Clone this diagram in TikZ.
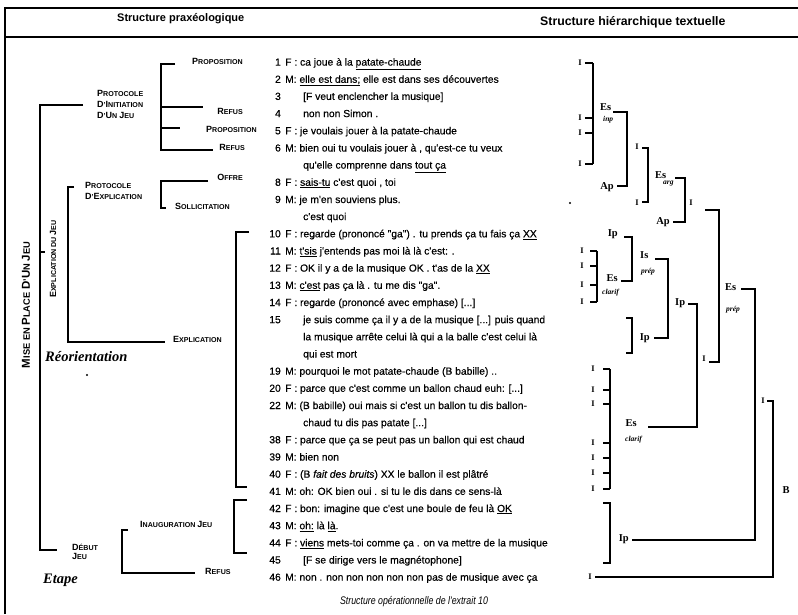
\documentclass[tikz,border=0pt]{standalone}
\usepackage{fontspec}
\setmainfont{Liberation Sans}
\newfontfamily\uttfont[FakeBold=0.4]{Liberation Sans}
\newfontfamily\hierfont{Liberation Serif}
\newfontfamily\captfont[FakeStretch=0.8]{Liberation Sans}
\newcommand\capA[1]{{\fontsize{9}{9}\selectfont #1}}
\newcommand\capB[1]{{\fontsize{11.5}{12}\selectfont #1}}
\begin{document}
\begin{tikzpicture}[x=1pt,y=-1pt,
  frame/.style={line width=1.5pt},
  br/.style={line width=1.3pt},
  num/.style={anchor=east,inner sep=0pt,text height=7.2pt,text depth=0pt,font=\uttfont\fontsize{10.3}{11}\selectfont},
  utt/.style={anchor=west,inner sep=0pt,text height=7.2pt,text depth=0pt,font=\uttfont\fontsize{10.3}{11}\selectfont},
  cat/.style={inner sep=0pt,text height=5.3pt,text depth=0pt,font=\bfseries\fontsize{7.1}{8}\selectfont},
  catm/.style={inner sep=0pt,align=left,anchor=west,font=\bfseries\fontsize{7.1}{11}\selectfont},
  unit/.style={inner sep=0pt,text height=6.5pt,text depth=0pt,font=\hierfont\bfseries\fontsize{10.5}{10}\selectfont},
  qual/.style={inner sep=0pt,anchor=west,font=\hierfont\bfseries\itshape\fontsize{7.5}{8}\selectfont},
  imark/.style={inner sep=0pt,text height=5.5pt,text depth=0pt,font=\hierfont\bfseries\fontsize{8.5}{8}\selectfont},
  head/.style={inner sep=0pt,anchor=west,font=\bfseries\fontsize{11}{12}\selectfont},
  lvl/.style={inner sep=0pt,anchor=west,font=\hierfont\bfseries\itshape\fontsize{14.5}{14}\selectfont},
  speck/.style={circle,fill,inner sep=0pt,minimum size=2.2pt}
]
\useasboundingbox (0,0) rectangle (798,614);

% ---------------- frame and column headings ----------------
\coordinate (fr-bl) at (5,614);
\coordinate (fr-tl) at (5,8);
\coordinate (fr-tr) at (798,8);
\coordinate (hd-l) at (5,37);
\coordinate (hd-r) at (798,37);
\draw[frame] (fr-bl) -- (fr-tl) -- (fr-tr);
\draw[frame] (hd-l) -- (hd-r);
\node[head] (hd-prax) at (117,19) {Structure praxéologique};
\node[head,font=\bfseries\fontsize{12.3}{13}\selectfont] (hd-hier) at (540,22) {Structure hiérarchique textuelle};

% ---------------- transcript ----------------
\node[num] (n1)  at (281,62.0)  {1};
\node[utt] (u1)  at (285,62.0)  {F : ca joue à la \underline{patate-chaude}};
\node[num] (n2)  at (281,79.2)  {2};
\node[utt] (u2)  at (285,79.2)  {M: \underline{elle est dans;} elle est dans ses découvertes};
\node[num] (n3)  at (281,96.3)  {3};
\node[utt] (u3)  at (303,96.3)  {[F veut enclencher la musique]};
\node[num] (n4)  at (281,113.5) {4};
\node[utt] (u4)  at (303,113.5) {non non Simon .};
\node[num] (n5)  at (281,130.7) {5};
\node[utt] (u5)  at (285,130.7) {F : je voulais jouer à la patate-chaude};
\node[num] (n6)  at (281,147.9) {6};
\node[utt] (u6)  at (285,147.9) {M: bien oui tu voulais jouer à , qu'est-ce tu veux};
\node[utt] (u6b) at (303,165.0) {qu'elle comprenne dans \underline{tout ça}};
\node[num] (n8)  at (281,182.2) {8};
\node[utt] (u8)  at (285,182.2) {F : \underline{sais-tu} c'est quoi , toi};
\node[num] (n9)  at (281,199.4) {9};
\node[utt] (u9)  at (285,199.4) {M: je m'en souviens plus.};
\node[utt] (u9b) at (303,216.5) {c'est quoi};
\node[num] (n10) at (281,233.7) {10};
\node[utt] (u10) at (285,233.7) {F : regarde (prononcé "ga") . tu prends ça tu fais ça \underline{XX}};
\node[num] (n11) at (281,250.9) {11};
\node[utt] (u11) at (285,250.9) {M: \underline{t'sis} j'entends pas moi là là c'est: .};
\node[num] (n12) at (281,268.0) {12};
\node[utt] (u12) at (285,268.0) {F : OK il y a de la musique OK . t'as de la \underline{XX}};
\node[num] (n13) at (281,285.2) {13};
\node[utt] (u13) at (285,285.2) {M: \underline{c'est} pas ça là . tu me dis "ga".};
\node[num] (n14) at (281,302.4) {14};
\node[utt] (u14) at (285,302.4) {F : regarde (prononcé avec emphase) [...]};
\node[num] (n15) at (281,319.6) {15};
\node[utt] (u15) at (303,319.6) {je suis comme ça il y a de la musique [...] puis quand};
\node[utt] (u15b) at (303,336.7) {la musique arrête celui là qui a la balle c'est celui là};
\node[utt] (u15c) at (303,353.9) {qui est mort};
\node[num] (n19) at (281,371.1) {19};
\node[utt] (u19) at (285,371.1) {M: pourquoi le mot patate-chaude (B babille) ..};
\node[num] (n20) at (281,388.2) {20};
\node[utt] (u20) at (285,388.2) {F : parce que c'est comme un ballon chaud euh: [...]};
\node[num] (n22) at (281,405.4) {22};
\node[utt] (u22) at (285,405.4) {M: (B babille) oui mais si c'est un ballon tu dis ballon-};
\node[utt] (u22b) at (303,422.6) {chaud tu dis pas patate [...]};
\node[num] (n38) at (281,439.7) {38};
\node[utt] (u38) at (285,439.7) {F : parce que ça se peut pas un ballon qui est chaud};
\node[num] (n39) at (281,456.9) {39};
\node[utt] (u39) at (285,456.9) {M: bien non};
\node[num] (n40) at (281,474.1) {40};
\node[utt] (u40) at (285,474.1) {F : (B \textit{fait des bruits}) XX le ballon il est plâtré};
\node[num] (n41) at (281,491.3) {41};
\node[utt] (u41) at (285,491.3) {M: oh: OK bien oui . si tu le dis dans ce sens-là};
\node[num] (n42) at (281,508.4) {42};
\node[utt] (u42) at (285,508.4) {F : bon: imagine que c'est une boule de feu là \underline{OK}};
\node[num] (n43) at (281,525.6) {43};
\node[utt] (u43) at (285,525.6) {M: \underline{oh:} là \underline{là}.};
\node[num] (n44) at (281,542.8) {44};
\node[utt] (u44) at (285,542.8) {F : \underline{viens} mets-toi comme ça . on va mettre de la musique};
\node[num] (n45) at (281,559.9) {45};
\node[utt] (u45) at (303,559.9) {[F se dirige vers le magnétophone]};
\node[num] (n46) at (281,577.1) {46};
\node[utt] (u46) at (285,577.1) {M: non . non non non non non pas de musique avec ça};

\node[inner sep=0pt,font=\captfont\itshape\fontsize{11}{12}\selectfont] (caption) at (414,602) {Structure opérationnelle de l'extrait 10};

% ---------------- praxeological structure ----------------
\node[inner sep=0pt,rotate=90,font=\bfseries\fontsize{9.3}{10}\selectfont] (mise) at (26,305)
  {\capB{M}ISE EN \capB{P}LACE \capB{D}'\capB{U}N \capB{J}EU};
\node[inner sep=0pt,rotate=90,font=\bfseries\fontsize{7.1}{8}\selectfont] (expjeu) at (53,259)
  {\capA{E}XPLICATION DU \capA{J}EU};

\coordinate (sp-top) at (40,105);
\coordinate (sp-mid) at (40,252);
\coordinate (sp-bot) at (40,550);
\coordinate (pinit-in) at (83,105);
\coordinate (expjeu-in) at (45,252);
\coordinate (debut-in) at (57,550);
\draw[br] (pinit-in) -- (sp-top) -- (sp-bot) -- (debut-in);
\draw[br] (sp-mid) -- (expjeu-in);

\node[catm] (pinit) at (97,104)
  {\capA{P}ROTOCOLE\\\capA{D}'\capA{I}NITIATION\\\capA{D}'\capA{U}N \capA{J}EU};
\node[catm,font=\bfseries\fontsize{7.1}{10.5}\selectfont] (pexpl) at (85,191)
  {\capA{P}ROTOCOLE\\\capA{D}'\capA{E}XPLICATION};
\node[catm,font=\bfseries\fontsize{7.1}{9.5}\selectfont] (debut) at (72,552)
  {\capA{D}ÉBUT\\\capA{J}EU};

% children of the initiation protocol
\node[cat,anchor=east] (prop1)  at (243,62)  {\capA{P}ROPOSITION};
\node[cat,anchor=east] (refus1) at (243,112) {\capA{R}EFUS};
\node[cat,anchor=east] (prop2)  at (257,130) {\capA{P}ROPOSITION};
\node[cat,anchor=east] (refus2) at (245,148) {\capA{R}EFUS};
\coordinate (b1-t) at (161,64);
\coordinate (b1-a) at (161,107);
\coordinate (b1-b) at (161,128);
\coordinate (b1-e) at (161,150);
\draw[br] (175,64) -- (b1-t) -- (b1-e) -- (213,150);
\draw[br] (b1-a) -- (203,107);
\draw[br] (b1-b) -- (180,128);

% children of the explanation protocol
\node[cat,anchor=east] (offre) at (243,178) {\capA{O}FFRE};
\node[cat,anchor=west] (sollic) at (175,207) {\capA{S}OLLICITATION};
\coordinate (b2-t) at (161,181);
\coordinate (b2-e) at (161,208);
\draw[br] (208,181) -- (b2-t) -- (b2-e) -- (166,208);

% explanation of the game
\coordinate (b3-t) at (68,187);
\coordinate (b3-e) at (68,342);
\node[cat,anchor=west] (expl) at (173,340) {\capA{E}XPLICATION};
\draw[br] (74,187) -- (b3-t) -- (b3-e) -- (165,342);
\coordinate (b4-t) at (236,232);
\coordinate (b4-e) at (236,487);
\draw[br] (249,232) -- (b4-t) -- (b4-e) -- (247,487);

% start of the game
\node[cat,anchor=west] (inaug) at (140,525) {\capA{I}NAUGURATION \capA{J}EU};
\node[cat,anchor=west] (refus3) at (205,572) {\capA{R}EFUS};
\coordinate (b5-t) at (122,530);
\coordinate (b5-e) at (122,573);
\draw[br] (128,530) -- (b5-t) -- (b5-e) -- (195,573);
\coordinate (b6-t) at (234,500);
\coordinate (b6-e) at (234,553);
\draw[br] (247,500) -- (b6-t) -- (b6-e) -- (247,553);

\node[lvl] (reor) at (45,357) {Réorientation};
\node[lvl] (etape) at (43,580) {Etape};
\node[speck] (sp1) at (87,375) {};
\node[speck] (sp2) at (570,203) {};

% ---------------- hierarchical structure ----------------
% Es inp
\foreach \yy/\nm in {63/a,118/b,133/c,164/d}{
  \node[imark] (h1\nm) at (580,\yy) {I};
  \draw[br] (h1\nm.east) ++(3,0) -- (593,\yy);
}
\draw[br] (593,63) -- (593,164);
\node[unit,anchor=west] (esinp) at (600,107) {Es};
\node[qual] (esinpq) at (603,120) {inp};
\node[unit,anchor=east] (ap1) at (614,186) {Ap};
\draw[br] (613,112) -- (627,112) -- (627,186) -- (617,186);
\node[imark] (i1) at (637,147) {I};
\node[imark] (i2) at (637,203) {I};
\draw[br] (642,148) -- (648,148) -- (648,202) -- (642,202);
\node[unit,anchor=west] (esarg) at (655,175) {Es};
\node[qual] (esargq) at (663,184) {arg};
\node[unit,anchor=east] (ap2) at (670,221) {Ap};
\draw[br] (675,178) -- (685,178) -- (685,222) -- (673,222);
\node[imark] (i3) at (691,203) {I};
\draw[br] (705,210) -- (719,210) -- (719,362) -- (709,362);
\node[imark] (i4) at (704,359) {I};
\node[unit,anchor=west] (esprep) at (725,287) {Es};
\node[qual] (esprepq) at (726,310) {prép};
\draw[br] (741,289) -- (755,289) -- (755,540) -- (632,540);
\node[unit,anchor=east] (ip5) at (629,538) {Ip};
\node[imark] (i5) at (763,401) {I};
\draw[br] (767,401) -- (773,401) -- (773,577) -- (595,577);
\node[imark] (h46) at (590,577) {I};
\node[unit] (bnode) at (786,490) {B};

% Ip / Es clarif / Is prep
\node[unit,anchor=east] (ip1) at (618,233) {Ip};
\draw[br] (624,237) -- (632,237) -- (632,281) -- (621,281);
\node[unit,anchor=east] (esc1) at (618,278) {Es};
\node[qual] (esc1q) at (602,293) {clarif};
\foreach \yy/\nm in {251/a,266/b,285/c,302/d}{
  \node[imark] (h2\nm) at (582,\yy) {I};
  \draw[br] (590,\yy) -- (597,\yy);
}
\draw[br] (597,251) -- (597,302);
\node[unit,anchor=west] (is1) at (640,255) {Is};
\node[qual] (is1q) at (641,272) {prép};
\draw[br] (655,259) -- (668,259) -- (668,338) -- (654,338);
\node[unit,anchor=east] (ip2) at (650,337) {Ip};
\draw[br] (626,318) -- (632,318) -- (632,353) -- (626,353);
\node[unit,anchor=west] (ip3) at (675,302) {Ip};
\draw[br] (688,304) -- (697,304) -- (697,427) -- (648,427);
\node[unit,anchor=east] (esc2) at (637,423) {Es};
\node[qual] (esc2q) at (625,440) {clarif};
\foreach \yy/\nm in {369/a,390/b,404/c,443/d,458/e,473/f,489/g}{
  \node[imark] (h3\nm) at (593,\yy) {I};
  \draw[br] (603,\yy) -- (610,\yy);
}
\draw[br] (610,369) -- (610,489);
\draw[br] (603,503) -- (610,503) -- (610,563) -- (603,563);
\end{tikzpicture}
\end{document}
